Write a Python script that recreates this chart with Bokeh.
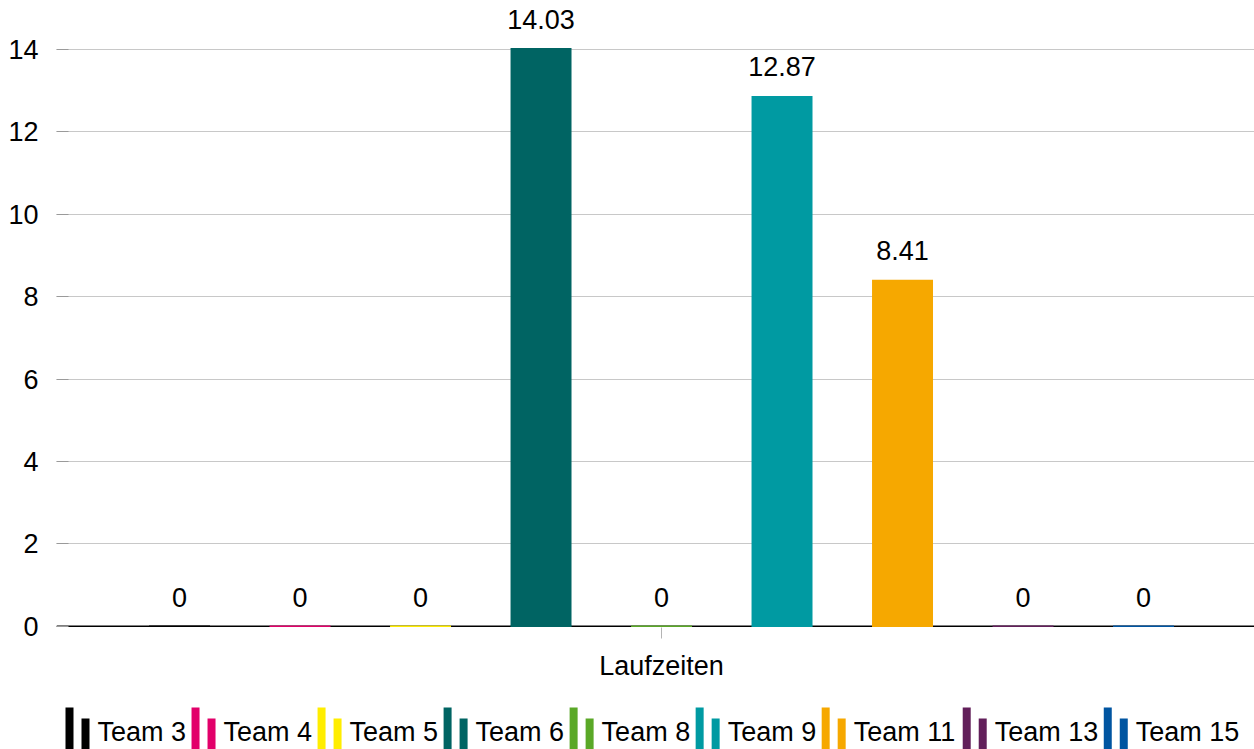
from bokeh.plotting import figure
from bokeh.layouts import column
from bokeh.models import Range1d, FixedTicker, ColumnDataSource
from bokeh.core.properties import value
from bokeh.embed import file_html
from bokeh.resources import INLINE

# --- data -------------------------------------------------------------
category = "Laufzeiten"
teams = ["Team 3", "Team 4", "Team 5", "Team 6", "Team 8",
         "Team 9", "Team 11", "Team 13", "Team 15"]
laufzeiten = [0, 0, 0, 14.03, 0, 12.87, 8.41, 0, 0]
colors = ["#000000", "#e2006a", "#ffed00", "#006463", "#5aa827",
          "#009aa2", "#f6a800", "#621f5a", "#0055a1"]
y_ticks = [0, 2, 4, 6, 8, 10, 12, 14]

# --- layout / style ---------------------------------------------------
FONT = "Liberation Sans"
FS = "27px"
BAR_W = 0.506
X_START, X_END = -1.021, 8.921
Y_START, Y_END = -0.03, 15.04
FRAME_LEFT = 56

n = len(teams)
idx = list(range(n))
center = (n - 1) / 2

src = ColumnDataSource(dict(
    x=idx,
    top=laufzeiten,
    x0=[i - BAR_W / 2 for i in idx],
    x1=[i + BAR_W / 2 for i in idx],
    zero=[0] * n,
    color=colors,
    label=[f"{v:g}" for v in laufzeiten],
))

p = figure(width=1254, height=690, output_backend="svg", toolbar_location=None,
           x_range=Range1d(X_START, X_END), y_range=Range1d(Y_START, Y_END),
           min_border_left=FRAME_LEFT, min_border_right=0, min_border_top=6,
           min_border_bottom=63)
p.outline_line_color = None
p.background_fill_color = "white"
p.border_fill_color = "white"

# grid
p.xgrid.visible = False
p.ygrid.ticker = FixedTicker(ticks=y_ticks)
p.ygrid.grid_line_color = "#c8c8c8"
p.ygrid.grid_line_width = 1

# y axis
p.yaxis.ticker = FixedTicker(ticks=y_ticks)
p.yaxis.axis_line_color = None
p.yaxis.major_tick_in = 12
p.yaxis.major_tick_out = 0
p.yaxis.major_tick_line_color = "#9a9a9a"
p.yaxis.minor_tick_line_color = None
p.yaxis.major_label_standoff = 18
p.yaxis.major_label_text_font = FONT
p.yaxis.major_label_text_font_size = FS
p.yaxis.major_label_text_color = "black"

# x axis: one category centered under the group
p.xaxis.ticker = FixedTicker(ticks=[center])
p.xaxis.major_label_overrides = {center: category}
p.xaxis.axis_line_color = None
p.xaxis.major_tick_in = 0
p.xaxis.major_tick_out = 11
p.xaxis.major_tick_line_color = "#b4b4b4"
p.xaxis.minor_tick_line_color = None
p.xaxis.major_label_standoff = 12
p.xaxis.major_label_text_font = FONT
p.xaxis.major_label_text_font_size = FS
p.xaxis.major_label_text_color = "black"

# baseline
p.segment(x0=X_START, x1=X_END, y0=0, y1=0, line_color="black", line_width=1.4)

# bars
p.vbar(x="x", top="top", bottom=0, width=BAR_W, source=src,
       fill_color="color", line_color=None)
p.segment(x0="x0", x1="x1", y0="zero", y1="zero", source=src,
          line_color="color", line_width=1.4)

# value labels
p.text(x="x", y="top", text="label", source=src,
       text_font=value(FONT), text_font_size=FS, text_color="black",
       text_align="center", text_baseline="alphabetic", y_offset=-29)

# --- legend strip -----------------------------------------------------
leg = figure(width=1254, height=59, output_backend="svg", toolbar_location=None,
             x_range=Range1d(FRAME_LEFT, 1254), y_range=Range1d(59, 0),
             min_border_left=FRAME_LEFT, min_border_right=0,
             min_border_top=0, min_border_bottom=0)
leg.axis.visible = False
leg.grid.visible = False
leg.outline_line_color = None

ADV = {"T": .611, "e": .556, "a": .556, "m": .833, " ": .278}
fs_px = 27
pos = []
xcur = 65.0
for t in teams:
    pos.append(xcur)
    w = sum(ADV.get(c, .556) for c in t) * fs_px
    xcur += 32 + w + 2.5

lsrc = ColumnDataSource(dict(
    l1=pos, r1=[x + 8 for x in pos],
    l2=[x + 16 for x in pos], r2=[x + 24 for x in pos],
    tx=[x + 32 for x in pos], name=teams, color=colors,
))
leg.quad(left="l1", right="r1", top=17, bottom=59, source=lsrc,
         fill_color="color", line_color=None)
leg.quad(left="l2", right="r2", top=28, bottom=59, source=lsrc,
         fill_color="color", line_color=None)
leg.text(x="tx", y=41, text="name", source=lsrc,
         text_font=value(FONT), text_font_size=FS, text_color="black",
         text_align="left", text_baseline="alphabetic")

layout = column(p, leg, spacing=0)
open("out.html", "w").write(file_html(layout, INLINE))
